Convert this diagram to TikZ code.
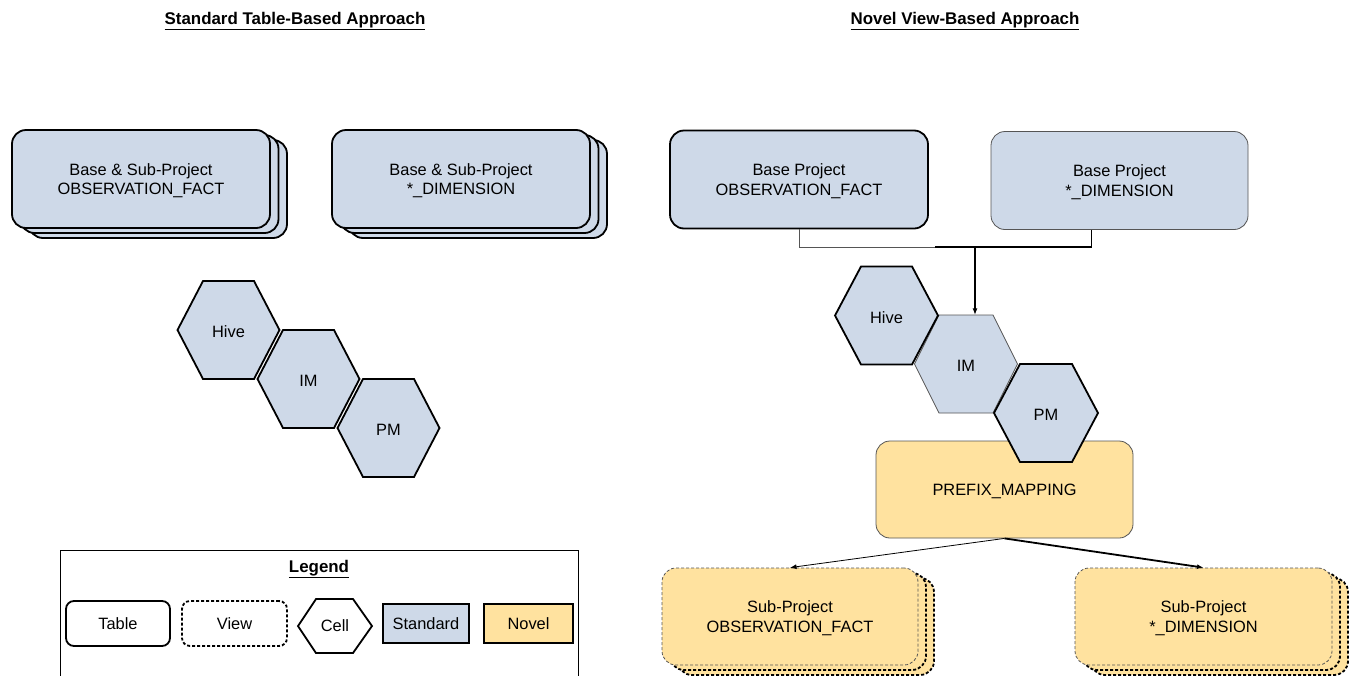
\documentclass[tikz,border=0pt]{standalone}
\usepackage{fontspec}
\setmainfont{Liberation Sans}
\usetikzlibrary{arrows.meta,calc}
\definecolor{stdblue}{RGB}{206,217,232}
\definecolor{novyel}{RGB}{255,226,159}
\definecolor{thingray}{RGB}{85,85,85}
\newcommand\tup{\rule{0pt}{15.5pt}}
\tikzset{
  box/.style={rounded corners=14pt, minimum width=258pt, minimum height=98pt, align=center,
    font=\fontsize{16.4}{19.5}\selectfont, inner sep=0pt},
  thickb/.style={draw=black, line width=1.8pt},
  thinb/.style={draw=thingray, line width=0.8pt},
  dsh/.style={dash pattern=on 3pt off 2pt},
  std/.style={fill=stdblue},
  nov/.style={fill=novyel},
  ttl/.style={font=\bfseries\fontsize{16.9}{20}\selectfont, inner sep=0pt},
  hexlbl/.style={inner sep=0pt, minimum width=102pt, minimum height=98pt, font=\fontsize{16.4}{19.5}\selectfont},
  lgd/.style={inner sep=0pt, font=\fontsize{16.4}{19.5}\selectfont},
  tip/.style={-{Latex[length=6.5pt,width=5pt]}}
}
% name, cx, cy, text, style, r, a, h
\newcommand\hexcell[8]{%
  \path[#5] (#2-#6,#3) -- (#2-#7,#3-#8) -- (#2+#7,#3-#8) -- (#2+#6,#3) -- (#2+#7,#3+#8) -- (#2-#7,#3+#8) -- cycle;
  \node[hexlbl] (#1) at (#2,#3) {#4};}
\begin{document}
\begin{tikzpicture}[x=1pt,y=-1pt]
\useasboundingbox (0,0) rectangle (1356,675);
\fill[white] (0,0) rectangle (1356,675);

% titles
\node[ttl] (tL) at (295,21) {\underline{Standard Table-Based Approach}};
\node[ttl] (tR) at (965,21) {\underline{Novel View-Based Approach}};

% left stacked tables
\node[box,thickb,std] (lofB2) at (158,189) {};
\node[box,thickb,std] (lofB1) at (149.5,184) {};
\node[box,thickb,std] (lof) at (141,179) {\tup Base \& Sub-Project\\OBSERVATION\_FACT};
\node[box,thickb,std] (ldB2) at (478,189) {};
\node[box,thickb,std] (ldB1) at (469.5,184) {};
\node[box,thickb,std] (ld) at (461,179) {\tup Base \& Sub-Project\\*\_DIMENSION};

% left hexes
\hexcell{lhive}{228.5}{330}{\tup Hive}{thickb,std}{51}{25.5}{49}
\hexcell{lim}{308.5}{379}{\tup IM}{thickb,std}{51}{25.5}{49}
\hexcell{lpm}{388.5}{428}{\tup PM}{thickb,std}{51}{25.5}{49}

% right base tables
\node[box,thickb,std] (rof) at (799,179.5) {\tup Base Project\\OBSERVATION\_FACT};
\node[box,thinb,std,minimum width=257pt] (rd) at (1119.5,180.5) {\tup Base Project\\*\_DIMENSION};

% connectors
\coordinate (jA) at (935,247);
\coordinate (jB) at (975,247);
\coordinate (dFoot) at ($(rd.south)+(-28,0)$);
\draw[thingray,line width=0.8pt] (rof.south) |- (jA);
\draw[black,line width=1.8pt] (jA) -| (dFoot);

% right hexes and prefix mapping
\hexcell{rim}{966}{364}{\tup IM}{thinb,std}{51.5}{27}{49}
\hexcell{rhive}{886.5}{315.5}{\tup Hive}{thickb,std}{51.5}{25.5}{49}
\draw[tip,black,line width=1.1pt] (jB) -- (jB |- rim.north);
\node[box,thinb,nov,minimum width=257pt,minimum height=97pt] (pfx) at (1004.5,489.5) {\tup PREFIX\_MAPPING};
\hexcell{rpm}{1046}{413}{\tup PM}{thickb,std}{52}{26}{49}

% sub-project views
\node[box,thickb,nov,dsh,minimum width=256pt,minimum height=97pt] (sofB2) at (806,626.5) {};
\node[box,thickb,nov,dsh,minimum width=256pt,minimum height=97pt] (sofB1) at (798,621.5) {};
\node[box,thinb,nov,dsh,minimum width=256pt,minimum height=97pt] (sof) at (790,616.5) {\tup Sub-Project\\OBSERVATION\_FACT};
\node[box,thickb,nov,dsh,minimum width=257pt,minimum height=97pt] (sdB2) at (1219.5,626.5) {};
\node[box,thickb,nov,dsh,minimum width=257pt,minimum height=97pt] (sdB1) at (1211.5,621.5) {};
\node[box,thinb,nov,dsh,minimum width=257pt,minimum height=97pt] (sd) at (1203.5,616.5) {\tup Sub-Project\\*\_DIMENSION};

\draw[tip,black,line width=0.8pt] (pfx.south) -- (sof.north);
\draw[tip,black,line width=1.8pt] (pfx.south) -- (sd.north);

% legend
\draw[black,line width=0.8pt] (60,680) -- (60,550) -- (578,550) -- (578,680);
\node[ttl] (lgT) at (319,569) {\underline{Legend}};
\node[lgd,thickb,rounded corners=8pt,minimum width=104pt,minimum height=45pt] (lgTable) at (118,623.5) {Table};
\node[lgd,thickb,dsh,rounded corners=8pt,minimum width=105pt,minimum height=45pt] (lgView) at (234.5,623.5) {View};
\path[thickb] (298,626) -- (316,599) -- (353,599) -- (372,626) -- (353,653) -- (316,653) -- cycle;
\node[lgd] (lgCell) at (335,626) {Cell};
\node[lgd,thickb,std,minimum width=86pt,minimum height=39pt] (lgStd) at (426,623.5) {Standard};
\node[lgd,thickb,nov,minimum width=89pt,minimum height=39pt] (lgNov) at (528.5,623.5) {Novel};
\end{tikzpicture}
\end{document}
